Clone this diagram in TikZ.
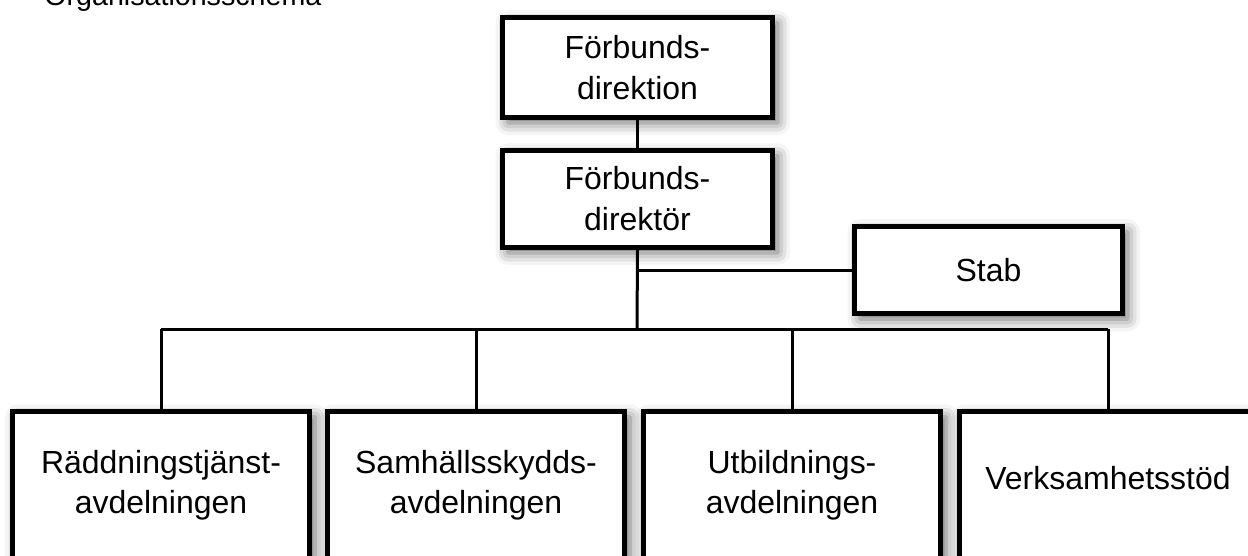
\documentclass[tikz,border=0pt]{standalone}
\usepackage{fontspec}
\setmainfont{Liberation Sans}
\usetikzlibrary{shadows.blur}
\begin{document}
\begin{tikzpicture}[x=0.02cm, y=-0.02cm, line width=0.06cm,
  org box/.style={rectangle, draw, fill=white, line width=0.1cm, blur shadow={shadow xshift=3pt, shadow yshift=-3pt, shadow blur radius=7pt, shadow opacity=60}},
  low box/.style={org box, minimum width=5.96cm, minimum height=3.77cm, inner sep=0pt},
  label text/.style={font=\fontsize{18.2}{22.8}\selectfont, align=center}]
        \tikzstyle{every node}=[font=\fontsize{18.2}{23.4}\selectfont, align=center]
        \useasboundingbox (0,0) rectangle (1248,555);

          \node[anchor=base west, font=\fontsize{16.3}{20}\selectfont] (title) at (37,5) {Organisationsschema};

          \node[org box, minimum width=5.4cm, minimum height=2cm] (dir) at (637.5,67.5) {Förbunds-\\direktion};
          \node[org box, minimum width=5.4cm, minimum height=1.94cm] (dirr) at (637.5,199) {Förbunds-\\direktör};
          \node[org box, minimum width=5.36cm, minimum height=1.75cm] (stab) at (988.5,270) {Stab};

          \node[low box] (rad) at (161,505.75) {};
          \node[low box] (sam) at (476,505.75) {};
          \node[low box] (utb) at (792,505.75) {};
          \node[low box] (verk) at (1108,505.75) {};

          \node[label text] (radtxt) at (161,485) {Räddningstjänst-\\avdelningen};
          \node[label text] (samtxt) at (476,485) {Samhällsskydds-\\avdelningen};
          \node[label text] (utbtxt) at (792,485) {Utbildnings-\\avdelningen};
          \node[label text] (verktxt) at (1108,478) {Verksamhetsstöd};

          \coordinate (bus) at (637,329);

          \draw (dir) -- (dirr);
          \draw (dirr.south) -- (bus);
          \draw (dirr.south |- stab.west) -- (stab.west);
          \draw (rad.north |- bus) -- (verk.north |- bus);
          \foreach \b in {rad, sam, utb, verk}
            \draw (\b.north |- bus) -- (\b.north);

\end{tikzpicture}
\end{document}
